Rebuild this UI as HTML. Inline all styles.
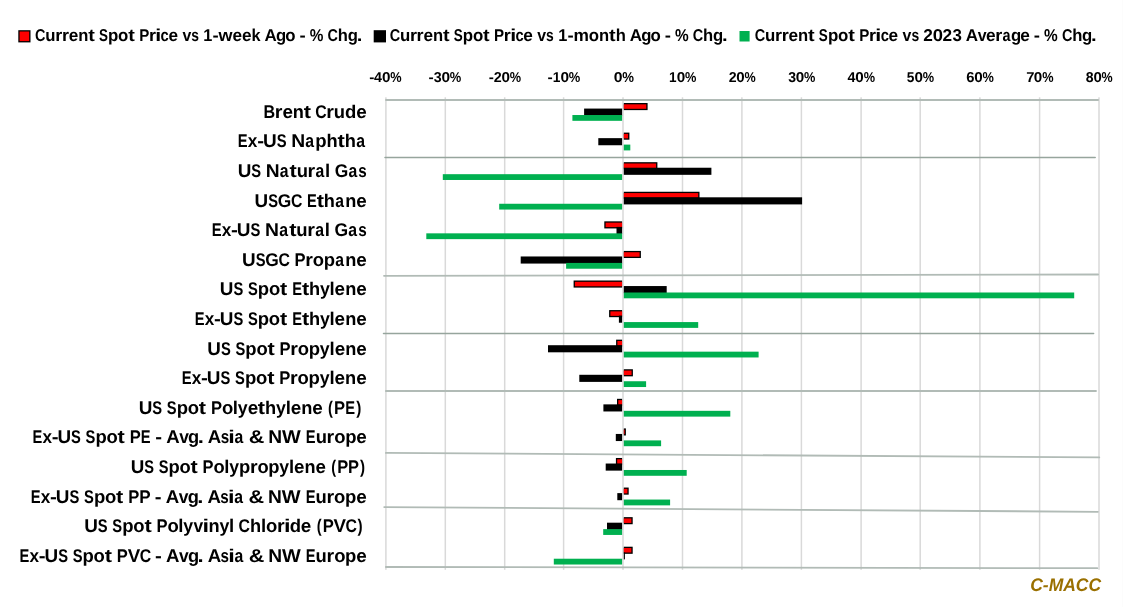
<!DOCTYPE html><html><head><meta charset="utf-8"><title>Spot Price Changes</title><style>
html,body{margin:0;padding:0;background:#fff;}
body{width:1123px;height:607px;overflow:hidden;position:relative;}
svg{position:absolute;left:0;top:0;display:block;will-change:transform;}
text{text-rendering:geometricPrecision;font-family:"Liberation Sans", Arial, sans-serif;font-weight:bold;fill:#000;}
</style></head><body>
<svg width="1123" height="607" viewBox="0 0 1123 607">
<rect x="0" y="0" width="1123" height="607" fill="#fff"/>
<line x1="1122.5" y1="0" x2="1122.5" y2="607" stroke="#fcfcfc" stroke-width="1"/>
<rect x="18.3" y="30.2" width="12.2" height="12.2" fill="#000"/><rect x="19.6" y="31.5" width="9.6" height="9.6" fill="#ff0000"/>
<text y="41.40" font-size="17.10"><tspan x="35.02" textLength="10.44" lengthAdjust="spacingAndGlyphs">C</tspan><tspan x="45.18" textLength="10.25" lengthAdjust="spacingAndGlyphs">u</tspan><tspan x="55.18" textLength="7.01" lengthAdjust="spacingAndGlyphs">r</tspan><tspan x="61.91" textLength="7.01" lengthAdjust="spacingAndGlyphs">r</tspan><tspan x="68.83" textLength="9.56" lengthAdjust="spacingAndGlyphs">e</tspan><tspan x="78.24" textLength="10.14" lengthAdjust="spacingAndGlyphs">n</tspan><tspan x="88.24" textLength="6.61" lengthAdjust="spacingAndGlyphs">t</tspan> <tspan x="98.96" textLength="8.98" lengthAdjust="spacingAndGlyphs">S</tspan><tspan x="108.01" textLength="10.31" lengthAdjust="spacingAndGlyphs">p</tspan><tspan x="118.11" textLength="10.28" lengthAdjust="spacingAndGlyphs">o</tspan><tspan x="128.20" textLength="6.61" lengthAdjust="spacingAndGlyphs">t</tspan> <tspan x="139.21" textLength="10.08" lengthAdjust="spacingAndGlyphs">P</tspan><tspan x="149.00" textLength="7.01" lengthAdjust="spacingAndGlyphs">r</tspan><tspan x="155.32" textLength="5.99" lengthAdjust="spacingAndGlyphs">i</tspan><tspan x="160.57" textLength="8.19" lengthAdjust="spacingAndGlyphs">c</tspan><tspan x="168.50" textLength="9.56" lengthAdjust="spacingAndGlyphs">e</tspan> <tspan x="182.44" textLength="8.82" lengthAdjust="spacingAndGlyphs">v</tspan><tspan x="191.20" textLength="7.71" lengthAdjust="spacingAndGlyphs">s</tspan> <tspan x="203.34" textLength="9.07" lengthAdjust="spacingAndGlyphs">1</tspan><tspan x="212.51" textLength="6.18" lengthAdjust="spacingAndGlyphs">-</tspan><tspan x="218.57" textLength="13.98" lengthAdjust="spacingAndGlyphs">w</tspan><tspan x="232.55" textLength="9.56" lengthAdjust="spacingAndGlyphs">e</tspan><tspan x="241.94" textLength="9.56" lengthAdjust="spacingAndGlyphs">e</tspan><tspan x="251.39" textLength="9.04" lengthAdjust="spacingAndGlyphs">k</tspan> <tspan x="264.53" textLength="12.27" lengthAdjust="spacingAndGlyphs">A</tspan><tspan x="276.06" textLength="10.19" lengthAdjust="spacingAndGlyphs">g</tspan><tspan x="285.30" textLength="10.28" lengthAdjust="spacingAndGlyphs">o</tspan> <tspan x="299.42" textLength="6.18" lengthAdjust="spacingAndGlyphs">-</tspan> <tspan x="309.75" textLength="13.65" lengthAdjust="spacingAndGlyphs">%</tspan> <tspan x="327.56" textLength="10.44" lengthAdjust="spacingAndGlyphs">C</tspan><tspan x="337.84" textLength="10.14" lengthAdjust="spacingAndGlyphs">h</tspan><tspan x="347.66" textLength="10.19" lengthAdjust="spacingAndGlyphs">g</tspan><tspan x="356.65" textLength="5.62" lengthAdjust="spacingAndGlyphs">.</tspan></text>
<rect x="373.7" y="30.2" width="12.3" height="12.2" fill="#000"/>
<text y="41.40" font-size="17.10"><tspan x="389.72" textLength="10.45" lengthAdjust="spacingAndGlyphs">C</tspan><tspan x="399.90" textLength="10.27" lengthAdjust="spacingAndGlyphs">u</tspan><tspan x="409.90" textLength="7.02" lengthAdjust="spacingAndGlyphs">r</tspan><tspan x="416.64" textLength="7.02" lengthAdjust="spacingAndGlyphs">r</tspan><tspan x="423.57" textLength="9.58" lengthAdjust="spacingAndGlyphs">e</tspan><tspan x="433.00" textLength="10.15" lengthAdjust="spacingAndGlyphs">n</tspan><tspan x="443.01" textLength="6.61" lengthAdjust="spacingAndGlyphs">t</tspan> <tspan x="453.74" textLength="8.99" lengthAdjust="spacingAndGlyphs">S</tspan><tspan x="462.80" textLength="10.32" lengthAdjust="spacingAndGlyphs">p</tspan><tspan x="472.91" textLength="10.29" lengthAdjust="spacingAndGlyphs">o</tspan><tspan x="483.02" textLength="6.61" lengthAdjust="spacingAndGlyphs">t</tspan> <tspan x="494.04" textLength="10.09" lengthAdjust="spacingAndGlyphs">P</tspan><tspan x="503.85" textLength="7.02" lengthAdjust="spacingAndGlyphs">r</tspan><tspan x="510.17" textLength="5.99" lengthAdjust="spacingAndGlyphs">i</tspan><tspan x="515.43" textLength="8.20" lengthAdjust="spacingAndGlyphs">c</tspan><tspan x="523.37" textLength="9.58" lengthAdjust="spacingAndGlyphs">e</tspan> <tspan x="537.33" textLength="8.83" lengthAdjust="spacingAndGlyphs">v</tspan><tspan x="546.09" textLength="7.72" lengthAdjust="spacingAndGlyphs">s</tspan> <tspan x="558.25" textLength="9.09" lengthAdjust="spacingAndGlyphs">1</tspan><tspan x="567.43" textLength="6.19" lengthAdjust="spacingAndGlyphs">-</tspan><tspan x="573.42" textLength="15.43" lengthAdjust="spacingAndGlyphs">m</tspan><tspan x="588.81" textLength="10.29" lengthAdjust="spacingAndGlyphs">o</tspan><tspan x="599.08" textLength="10.15" lengthAdjust="spacingAndGlyphs">n</tspan><tspan x="609.09" textLength="6.61" lengthAdjust="spacingAndGlyphs">t</tspan><tspan x="615.65" textLength="10.15" lengthAdjust="spacingAndGlyphs">h</tspan> <tspan x="629.71" textLength="12.28" lengthAdjust="spacingAndGlyphs">A</tspan><tspan x="641.25" textLength="10.20" lengthAdjust="spacingAndGlyphs">g</tspan><tspan x="650.51" textLength="10.29" lengthAdjust="spacingAndGlyphs">o</tspan> <tspan x="664.65" textLength="6.19" lengthAdjust="spacingAndGlyphs">-</tspan> <tspan x="674.99" textLength="13.67" lengthAdjust="spacingAndGlyphs">%</tspan> <tspan x="692.82" textLength="10.45" lengthAdjust="spacingAndGlyphs">C</tspan><tspan x="703.11" textLength="10.15" lengthAdjust="spacingAndGlyphs">h</tspan><tspan x="712.94" textLength="10.20" lengthAdjust="spacingAndGlyphs">g</tspan><tspan x="721.94" textLength="5.63" lengthAdjust="spacingAndGlyphs">.</tspan></text>
<rect x="739.5" y="31.0" width="10.1" height="10.5" fill="#00b050"/>
<text y="41.40" font-size="17.10"><tspan x="754.72" textLength="10.47" lengthAdjust="spacingAndGlyphs">C</tspan><tspan x="764.91" textLength="10.29" lengthAdjust="spacingAndGlyphs">u</tspan><tspan x="774.94" textLength="7.03" lengthAdjust="spacingAndGlyphs">r</tspan><tspan x="781.69" textLength="7.03" lengthAdjust="spacingAndGlyphs">r</tspan><tspan x="788.64" textLength="9.59" lengthAdjust="spacingAndGlyphs">e</tspan><tspan x="798.08" textLength="10.17" lengthAdjust="spacingAndGlyphs">n</tspan><tspan x="808.11" textLength="6.63" lengthAdjust="spacingAndGlyphs">t</tspan> <tspan x="818.86" textLength="9.00" lengthAdjust="spacingAndGlyphs">S</tspan><tspan x="827.93" textLength="10.34" lengthAdjust="spacingAndGlyphs">p</tspan><tspan x="838.07" textLength="10.31" lengthAdjust="spacingAndGlyphs">o</tspan><tspan x="848.20" textLength="6.63" lengthAdjust="spacingAndGlyphs">t</tspan> <tspan x="859.24" textLength="10.11" lengthAdjust="spacingAndGlyphs">P</tspan><tspan x="869.06" textLength="7.03" lengthAdjust="spacingAndGlyphs">r</tspan><tspan x="875.39" textLength="6.01" lengthAdjust="spacingAndGlyphs">i</tspan><tspan x="880.66" textLength="8.22" lengthAdjust="spacingAndGlyphs">c</tspan><tspan x="888.62" textLength="9.59" lengthAdjust="spacingAndGlyphs">e</tspan> <tspan x="902.61" textLength="8.85" lengthAdjust="spacingAndGlyphs">v</tspan><tspan x="911.39" textLength="7.73" lengthAdjust="spacingAndGlyphs">s</tspan> <tspan x="923.37" textLength="9.59" lengthAdjust="spacingAndGlyphs">2</tspan><tspan x="932.68" textLength="10.24" lengthAdjust="spacingAndGlyphs">0</tspan><tspan x="942.62" textLength="9.59" lengthAdjust="spacingAndGlyphs">2</tspan><tspan x="952.52" textLength="9.40" lengthAdjust="spacingAndGlyphs">3</tspan> <tspan x="965.78" textLength="12.31" lengthAdjust="spacingAndGlyphs">A</tspan><tspan x="977.72" textLength="8.85" lengthAdjust="spacingAndGlyphs">v</tspan><tspan x="986.12" textLength="9.59" lengthAdjust="spacingAndGlyphs">e</tspan><tspan x="995.31" textLength="7.03" lengthAdjust="spacingAndGlyphs">r</tspan><tspan x="1002.59" textLength="8.02" lengthAdjust="spacingAndGlyphs">a</tspan><tspan x="1010.96" textLength="10.22" lengthAdjust="spacingAndGlyphs">g</tspan><tspan x="1020.22" textLength="9.59" lengthAdjust="spacingAndGlyphs">e</tspan> <tspan x="1033.73" textLength="6.20" lengthAdjust="spacingAndGlyphs">-</tspan> <tspan x="1044.09" textLength="13.69" lengthAdjust="spacingAndGlyphs">%</tspan> <tspan x="1061.96" textLength="10.47" lengthAdjust="spacingAndGlyphs">C</tspan><tspan x="1072.27" textLength="10.17" lengthAdjust="spacingAndGlyphs">h</tspan><tspan x="1082.12" textLength="10.22" lengthAdjust="spacingAndGlyphs">g</tspan><tspan x="1091.14" textLength="5.64" lengthAdjust="spacingAndGlyphs">.</tspan></text>
<rect x="385.15" y="97.3" width="1.5" height="472.5" fill="#d9d9d9"/>
<rect x="444.55" y="97.3" width="1.5" height="472.5" fill="#d9d9d9"/>
<rect x="503.95" y="97.3" width="1.5" height="472.5" fill="#d9d9d9"/>
<rect x="562.85" y="97.3" width="1.5" height="472.5" fill="#d9d9d9"/>
<rect x="622.25" y="97.3" width="1.5" height="472.5" fill="#d9d9d9"/>
<rect x="681.75" y="97.3" width="1.5" height="472.5" fill="#d9d9d9"/>
<rect x="741.15" y="97.3" width="1.5" height="472.5" fill="#d9d9d9"/>
<rect x="800.65" y="97.3" width="1.5" height="472.5" fill="#d9d9d9"/>
<rect x="860.35" y="97.3" width="1.5" height="472.5" fill="#d9d9d9"/>
<rect x="919.45" y="97.3" width="1.5" height="472.5" fill="#d9d9d9"/>
<rect x="979.15" y="97.3" width="1.5" height="472.5" fill="#d9d9d9"/>
<rect x="1038.85" y="97.3" width="1.5" height="472.5" fill="#d9d9d9"/>
<rect x="1098.25" y="97.3" width="1.5" height="472.5" fill="#d9d9d9"/>
<text y="81.90" font-size="14.30"><tspan x="369.26" textLength="5.14" lengthAdjust="spacingAndGlyphs">-</tspan><tspan x="374.09" textLength="7.95" lengthAdjust="spacingAndGlyphs">4</tspan><tspan x="381.99" textLength="8.49" lengthAdjust="spacingAndGlyphs">0</tspan><tspan x="390.25" textLength="11.35" lengthAdjust="spacingAndGlyphs">%</tspan></text>
<text y="81.90" font-size="14.30"><tspan x="428.55" textLength="5.21" lengthAdjust="spacingAndGlyphs">-</tspan><tspan x="433.86" textLength="7.90" lengthAdjust="spacingAndGlyphs">3</tspan><tspan x="441.45" textLength="8.60" lengthAdjust="spacingAndGlyphs">0</tspan><tspan x="449.81" textLength="11.50" lengthAdjust="spacingAndGlyphs">%</tspan></text>
<text y="81.90" font-size="14.30"><tspan x="488.67" textLength="5.14" lengthAdjust="spacingAndGlyphs">-</tspan><tspan x="493.68" textLength="7.95" lengthAdjust="spacingAndGlyphs">2</tspan><tspan x="501.40" textLength="8.49" lengthAdjust="spacingAndGlyphs">0</tspan><tspan x="509.66" textLength="11.35" lengthAdjust="spacingAndGlyphs">%</tspan></text>
<text y="81.90" font-size="14.30"><tspan x="547.55" textLength="5.21" lengthAdjust="spacingAndGlyphs">-</tspan><tspan x="552.80" textLength="7.64" lengthAdjust="spacingAndGlyphs">1</tspan><tspan x="560.45" textLength="8.60" lengthAdjust="spacingAndGlyphs">0</tspan><tspan x="568.81" textLength="11.50" lengthAdjust="spacingAndGlyphs">%</tspan></text>
<text y="81.90" font-size="14.30"><tspan x="613.65" textLength="8.77" lengthAdjust="spacingAndGlyphs">0</tspan><tspan x="622.19" textLength="11.73" lengthAdjust="spacingAndGlyphs">%</tspan></text>
<text y="81.90" font-size="14.30"><tspan x="669.08" textLength="7.56" lengthAdjust="spacingAndGlyphs">1</tspan><tspan x="676.65" textLength="8.51" lengthAdjust="spacingAndGlyphs">0</tspan><tspan x="684.93" textLength="11.38" lengthAdjust="spacingAndGlyphs">%</tspan></text>
<text y="81.90" font-size="14.30"><tspan x="728.68" textLength="7.87" lengthAdjust="spacingAndGlyphs">2</tspan><tspan x="736.31" textLength="8.39" lengthAdjust="spacingAndGlyphs">0</tspan><tspan x="744.48" textLength="11.23" lengthAdjust="spacingAndGlyphs">%</tspan></text>
<text y="81.90" font-size="14.30"><tspan x="788.20" textLength="7.80" lengthAdjust="spacingAndGlyphs">3</tspan><tspan x="795.69" textLength="8.49" lengthAdjust="spacingAndGlyphs">0</tspan><tspan x="803.95" textLength="11.35" lengthAdjust="spacingAndGlyphs">%</tspan></text>
<text y="81.90" font-size="14.30"><tspan x="847.49" textLength="7.95" lengthAdjust="spacingAndGlyphs">4</tspan><tspan x="855.39" textLength="8.49" lengthAdjust="spacingAndGlyphs">0</tspan><tspan x="863.65" textLength="11.35" lengthAdjust="spacingAndGlyphs">%</tspan></text>
<text y="81.90" font-size="14.30"><tspan x="906.71" textLength="7.62" lengthAdjust="spacingAndGlyphs">5</tspan><tspan x="914.49" textLength="8.49" lengthAdjust="spacingAndGlyphs">0</tspan><tspan x="922.75" textLength="11.35" lengthAdjust="spacingAndGlyphs">%</tspan></text>
<text y="81.90" font-size="14.30"><tspan x="966.38" textLength="8.22" lengthAdjust="spacingAndGlyphs">6</tspan><tspan x="974.19" textLength="8.49" lengthAdjust="spacingAndGlyphs">0</tspan><tspan x="982.45" textLength="11.35" lengthAdjust="spacingAndGlyphs">%</tspan></text>
<text y="81.90" font-size="14.30"><tspan x="1026.17" textLength="8.21" lengthAdjust="spacingAndGlyphs">7</tspan><tspan x="1033.89" textLength="8.49" lengthAdjust="spacingAndGlyphs">0</tspan><tspan x="1042.15" textLength="11.35" lengthAdjust="spacingAndGlyphs">%</tspan></text>
<text y="81.90" font-size="14.30"><tspan x="1085.78" textLength="7.83" lengthAdjust="spacingAndGlyphs">8</tspan><tspan x="1093.44" textLength="8.34" lengthAdjust="spacingAndGlyphs">0</tspan><tspan x="1101.55" textLength="11.15" lengthAdjust="spacingAndGlyphs">%</tspan></text>
<line x1="386.00" y1="100.00" x2="1098.10" y2="100.00" stroke="#b1bbb6" stroke-width="1.80" stroke-linecap="round"/>
<line x1="385.00" y1="157.50" x2="1095.20" y2="157.40" stroke="#96a59d" stroke-width="1.50" stroke-linecap="round"/>
<line x1="384.00" y1="275.80" x2="1098.10" y2="274.50" stroke="#b1bbb6" stroke-width="1.80" stroke-linecap="round"/>
<line x1="383.50" y1="333.40" x2="1093.60" y2="333.40" stroke="#96a59d" stroke-width="1.50" stroke-linecap="round"/>
<line x1="385.90" y1="391.00" x2="1096.00" y2="391.00" stroke="#b1bbb6" stroke-width="1.80" stroke-linecap="round"/>
<line x1="385.90" y1="452.90" x2="1099.30" y2="457.40" stroke="#b1bbb6" stroke-width="1.80" stroke-linecap="round"/>
<line x1="384.20" y1="507.10" x2="1097.90" y2="511.80" stroke="#b1bbb6" stroke-width="1.80" stroke-linecap="round"/>
<line x1="385.90" y1="567.00" x2="1097.30" y2="568.20" stroke="#b1bbb6" stroke-width="1.80" stroke-linecap="round"/>
<rect x="623.80" y="103.02" width="23.80" height="7.10" fill="#000"/><rect x="623.80" y="104.32" width="22.50" height="4.50" fill="#ff0000"/>
<rect x="584.10" y="108.57" width="38.00" height="7.10" fill="#000"/>
<rect x="572.40" y="115.02" width="49.70" height="5.80" fill="#00b050"/>
<rect x="623.80" y="132.60" width="5.60" height="7.10" fill="#000"/><rect x="623.80" y="133.90" width="4.30" height="4.50" fill="#ff0000"/>
<rect x="598.30" y="138.15" width="23.80" height="7.10" fill="#000"/>
<rect x="623.80" y="144.60" width="6.50" height="5.80" fill="#00b050"/>
<rect x="623.80" y="162.18" width="33.60" height="7.10" fill="#000"/><rect x="623.80" y="163.48" width="32.30" height="4.50" fill="#ff0000"/>
<rect x="623.80" y="167.73" width="87.60" height="7.10" fill="#000"/>
<rect x="442.80" y="174.18" width="179.30" height="5.80" fill="#00b050"/>
<rect x="623.80" y="191.76" width="75.70" height="7.10" fill="#000"/><rect x="623.80" y="193.06" width="74.40" height="4.50" fill="#ff0000"/>
<rect x="623.80" y="197.31" width="178.30" height="7.10" fill="#000"/>
<rect x="499.20" y="203.76" width="122.90" height="5.80" fill="#00b050"/>
<rect x="604.30" y="221.34" width="17.80" height="7.10" fill="#000"/><rect x="605.60" y="222.64" width="16.50" height="4.50" fill="#ff0000"/>
<rect x="616.50" y="226.89" width="5.60" height="7.10" fill="#000"/>
<rect x="426.30" y="233.34" width="195.80" height="5.80" fill="#00b050"/>
<rect x="623.80" y="250.92" width="17.10" height="7.10" fill="#000"/><rect x="623.80" y="252.22" width="15.80" height="4.50" fill="#ff0000"/>
<rect x="520.70" y="256.47" width="101.40" height="7.10" fill="#000"/>
<rect x="566.10" y="262.92" width="56.00" height="5.80" fill="#00b050"/>
<rect x="573.60" y="280.50" width="48.50" height="7.10" fill="#000"/><rect x="574.90" y="281.80" width="47.20" height="4.50" fill="#ff0000"/>
<rect x="623.80" y="286.05" width="42.90" height="7.10" fill="#000"/>
<rect x="623.80" y="292.50" width="450.40" height="5.80" fill="#00b050"/>
<rect x="609.10" y="310.08" width="13.00" height="7.10" fill="#000"/><rect x="610.40" y="311.38" width="11.70" height="4.50" fill="#ff0000"/>
<rect x="618.90" y="315.63" width="3.20" height="7.10" fill="#000"/>
<rect x="623.80" y="322.08" width="74.40" height="5.80" fill="#00b050"/>
<rect x="616.10" y="339.66" width="6.00" height="7.10" fill="#000"/><rect x="617.40" y="340.96" width="4.70" height="4.50" fill="#ff0000"/>
<rect x="548.00" y="345.21" width="74.10" height="7.10" fill="#000"/>
<rect x="623.80" y="351.66" width="134.80" height="5.80" fill="#00b050"/>
<rect x="623.80" y="369.24" width="9.10" height="7.10" fill="#000"/><rect x="623.80" y="370.54" width="7.80" height="4.50" fill="#ff0000"/>
<rect x="579.30" y="374.79" width="42.80" height="7.10" fill="#000"/>
<rect x="623.80" y="381.24" width="22.30" height="5.80" fill="#00b050"/>
<rect x="617.00" y="398.82" width="5.10" height="7.10" fill="#000"/><rect x="618.30" y="400.12" width="3.80" height="4.50" fill="#ff0000"/>
<rect x="603.40" y="404.37" width="18.70" height="7.10" fill="#000"/>
<rect x="623.80" y="410.82" width="106.50" height="5.80" fill="#00b050"/>
<rect x="623.80" y="428.40" width="2.10" height="7.10" fill="#000"/><rect x="623.80" y="429.70" width="0.80" height="4.50" fill="#ff0000"/>
<rect x="615.80" y="433.95" width="6.30" height="7.10" fill="#000"/>
<rect x="623.80" y="440.40" width="37.30" height="5.80" fill="#00b050"/>
<rect x="615.90" y="457.98" width="6.20" height="7.10" fill="#000"/><rect x="617.20" y="459.28" width="4.90" height="4.50" fill="#ff0000"/>
<rect x="605.70" y="463.53" width="16.40" height="7.10" fill="#000"/>
<rect x="623.80" y="469.98" width="62.90" height="5.80" fill="#00b050"/>
<rect x="623.80" y="487.56" width="4.90" height="7.10" fill="#000"/><rect x="623.80" y="488.86" width="3.60" height="4.50" fill="#ff0000"/>
<rect x="617.30" y="493.11" width="4.80" height="7.10" fill="#000"/>
<rect x="623.80" y="499.56" width="46.30" height="5.80" fill="#00b050"/>
<rect x="623.80" y="517.14" width="8.90" height="7.10" fill="#000"/><rect x="623.80" y="518.44" width="7.60" height="4.50" fill="#ff0000"/>
<rect x="607.00" y="522.69" width="15.10" height="7.10" fill="#000"/>
<rect x="603.20" y="529.14" width="18.90" height="5.80" fill="#00b050"/>
<rect x="623.80" y="546.72" width="8.90" height="7.10" fill="#000"/><rect x="623.80" y="548.02" width="7.60" height="4.50" fill="#ff0000"/>
<rect x="623.80" y="552.27" width="1.10" height="7.10" fill="#000"/>
<rect x="553.80" y="558.72" width="68.30" height="5.80" fill="#00b050"/>
<text y="117.90" font-size="18.40"><tspan x="263.56" textLength="11.59" lengthAdjust="spacingAndGlyphs">B</tspan><tspan x="274.86" textLength="7.69" lengthAdjust="spacingAndGlyphs">r</tspan><tspan x="282.45" textLength="10.49" lengthAdjust="spacingAndGlyphs">e</tspan><tspan x="292.77" textLength="11.12" lengthAdjust="spacingAndGlyphs">n</tspan><tspan x="303.74" textLength="7.25" lengthAdjust="spacingAndGlyphs">t</tspan> <tspan x="315.34" textLength="11.45" lengthAdjust="spacingAndGlyphs">C</tspan><tspan x="326.31" textLength="7.69" lengthAdjust="spacingAndGlyphs">r</tspan><tspan x="333.87" textLength="11.25" lengthAdjust="spacingAndGlyphs">u</tspan><tspan x="344.97" textLength="11.31" lengthAdjust="spacingAndGlyphs">d</tspan><tspan x="356.20" textLength="10.49" lengthAdjust="spacingAndGlyphs">e</tspan></text>
<text y="147.49" font-size="18.40"><tspan x="237.84" textLength="9.84" lengthAdjust="spacingAndGlyphs">E</tspan><tspan x="247.84" textLength="9.57" lengthAdjust="spacingAndGlyphs">x</tspan><tspan x="257.21" textLength="6.81" lengthAdjust="spacingAndGlyphs">-</tspan><tspan x="263.03" textLength="13.69" lengthAdjust="spacingAndGlyphs">U</tspan><tspan x="276.68" textLength="9.88" lengthAdjust="spacingAndGlyphs">S</tspan> <tspan x="291.20" textLength="13.91" lengthAdjust="spacingAndGlyphs">N</tspan><tspan x="305.37" textLength="8.80" lengthAdjust="spacingAndGlyphs">a</tspan><tspan x="315.37" textLength="11.35" lengthAdjust="spacingAndGlyphs">p</tspan><tspan x="326.58" textLength="11.16" lengthAdjust="spacingAndGlyphs">h</tspan><tspan x="337.59" textLength="7.27" lengthAdjust="spacingAndGlyphs">t</tspan><tspan x="344.80" textLength="11.16" lengthAdjust="spacingAndGlyphs">h</tspan><tspan x="356.26" textLength="8.80" lengthAdjust="spacingAndGlyphs">a</tspan></text>
<text y="177.07" font-size="18.40"><tspan x="237.67" textLength="13.63" lengthAdjust="spacingAndGlyphs">U</tspan><tspan x="251.26" textLength="9.84" lengthAdjust="spacingAndGlyphs">S</tspan> <tspan x="265.71" textLength="13.85" lengthAdjust="spacingAndGlyphs">N</tspan><tspan x="279.82" textLength="8.77" lengthAdjust="spacingAndGlyphs">a</tspan><tspan x="289.62" textLength="7.24" lengthAdjust="spacingAndGlyphs">t</tspan><tspan x="296.68" textLength="11.24" lengthAdjust="spacingAndGlyphs">u</tspan><tspan x="307.63" textLength="7.69" lengthAdjust="spacingAndGlyphs">r</tspan><tspan x="315.59" textLength="8.77" lengthAdjust="spacingAndGlyphs">a</tspan><tspan x="325.09" textLength="5.17" lengthAdjust="spacingAndGlyphs">l</tspan> <tspan x="334.66" textLength="13.53" lengthAdjust="spacingAndGlyphs">G</tspan><tspan x="348.40" textLength="8.77" lengthAdjust="spacingAndGlyphs">a</tspan><tspan x="358.20" textLength="8.45" lengthAdjust="spacingAndGlyphs">s</tspan></text>
<text y="206.66" font-size="18.40"><tspan x="254.57" textLength="13.60" lengthAdjust="spacingAndGlyphs">U</tspan><tspan x="268.13" textLength="9.82" lengthAdjust="spacingAndGlyphs">S</tspan><tspan x="277.80" textLength="13.51" lengthAdjust="spacingAndGlyphs">G</tspan><tspan x="290.96" textLength="11.42" lengthAdjust="spacingAndGlyphs">C</tspan> <tspan x="307.01" textLength="9.78" lengthAdjust="spacingAndGlyphs">E</tspan><tspan x="316.81" textLength="7.23" lengthAdjust="spacingAndGlyphs">t</tspan><tspan x="323.87" textLength="11.09" lengthAdjust="spacingAndGlyphs">h</tspan><tspan x="335.25" textLength="8.75" lengthAdjust="spacingAndGlyphs">a</tspan><tspan x="345.21" textLength="11.09" lengthAdjust="spacingAndGlyphs">n</tspan><tspan x="356.22" textLength="10.46" lengthAdjust="spacingAndGlyphs">e</tspan></text>
<text y="236.25" font-size="18.40"><tspan x="211.64" textLength="9.86" lengthAdjust="spacingAndGlyphs">E</tspan><tspan x="221.66" textLength="9.59" lengthAdjust="spacingAndGlyphs">x</tspan><tspan x="231.04" textLength="6.82" lengthAdjust="spacingAndGlyphs">-</tspan><tspan x="236.87" textLength="13.71" lengthAdjust="spacingAndGlyphs">U</tspan><tspan x="250.55" textLength="9.90" lengthAdjust="spacingAndGlyphs">S</tspan> <tspan x="265.09" textLength="13.93" lengthAdjust="spacingAndGlyphs">N</tspan><tspan x="279.29" textLength="8.82" lengthAdjust="spacingAndGlyphs">a</tspan><tspan x="289.15" textLength="7.29" lengthAdjust="spacingAndGlyphs">t</tspan><tspan x="296.25" textLength="11.31" lengthAdjust="spacingAndGlyphs">u</tspan><tspan x="307.27" textLength="7.73" lengthAdjust="spacingAndGlyphs">r</tspan><tspan x="315.28" textLength="8.82" lengthAdjust="spacingAndGlyphs">a</tspan><tspan x="324.83" textLength="5.20" lengthAdjust="spacingAndGlyphs">l</tspan> <tspan x="334.47" textLength="13.62" lengthAdjust="spacingAndGlyphs">G</tspan><tspan x="348.29" textLength="8.82" lengthAdjust="spacingAndGlyphs">a</tspan><tspan x="358.15" textLength="8.50" lengthAdjust="spacingAndGlyphs">s</tspan></text>
<text y="265.84" font-size="18.40"><tspan x="242.07" textLength="13.62" lengthAdjust="spacingAndGlyphs">U</tspan><tspan x="255.65" textLength="9.84" lengthAdjust="spacingAndGlyphs">S</tspan><tspan x="265.34" textLength="13.53" lengthAdjust="spacingAndGlyphs">G</tspan><tspan x="278.52" textLength="11.44" lengthAdjust="spacingAndGlyphs">C</tspan> <tspan x="294.48" textLength="11.05" lengthAdjust="spacingAndGlyphs">P</tspan><tspan x="305.21" textLength="7.68" lengthAdjust="spacingAndGlyphs">r</tspan><tspan x="312.81" textLength="11.27" lengthAdjust="spacingAndGlyphs">o</tspan><tspan x="323.77" textLength="11.29" lengthAdjust="spacingAndGlyphs">p</tspan><tspan x="335.20" textLength="8.76" lengthAdjust="spacingAndGlyphs">a</tspan><tspan x="345.17" textLength="11.11" lengthAdjust="spacingAndGlyphs">n</tspan><tspan x="356.21" textLength="10.48" lengthAdjust="spacingAndGlyphs">e</tspan></text>
<text y="295.42" font-size="18.40"><tspan x="219.87" textLength="13.62" lengthAdjust="spacingAndGlyphs">U</tspan><tspan x="233.45" textLength="9.84" lengthAdjust="spacingAndGlyphs">S</tspan> <tspan x="247.95" textLength="9.84" lengthAdjust="spacingAndGlyphs">S</tspan><tspan x="257.85" textLength="11.29" lengthAdjust="spacingAndGlyphs">p</tspan><tspan x="268.92" textLength="11.26" lengthAdjust="spacingAndGlyphs">o</tspan><tspan x="279.98" textLength="7.24" lengthAdjust="spacingAndGlyphs">t</tspan> <tspan x="292.17" textLength="9.80" lengthAdjust="spacingAndGlyphs">E</tspan><tspan x="301.99" textLength="7.24" lengthAdjust="spacingAndGlyphs">t</tspan><tspan x="309.05" textLength="11.11" lengthAdjust="spacingAndGlyphs">h</tspan><tspan x="320.03" textLength="9.86" lengthAdjust="spacingAndGlyphs">y</tspan><tspan x="329.61" textLength="5.17" lengthAdjust="spacingAndGlyphs">l</tspan><tspan x="334.63" textLength="10.48" lengthAdjust="spacingAndGlyphs">e</tspan><tspan x="345.18" textLength="11.11" lengthAdjust="spacingAndGlyphs">n</tspan><tspan x="356.21" textLength="10.48" lengthAdjust="spacingAndGlyphs">e</tspan></text>
<text y="325.01" font-size="18.40"><tspan x="194.74" textLength="9.80" lengthAdjust="spacingAndGlyphs">E</tspan><tspan x="204.70" textLength="9.53" lengthAdjust="spacingAndGlyphs">x</tspan><tspan x="214.02" textLength="6.78" lengthAdjust="spacingAndGlyphs">-</tspan><tspan x="219.82" textLength="13.63" lengthAdjust="spacingAndGlyphs">U</tspan><tspan x="233.40" textLength="9.84" lengthAdjust="spacingAndGlyphs">S</tspan> <tspan x="247.91" textLength="9.84" lengthAdjust="spacingAndGlyphs">S</tspan><tspan x="257.82" textLength="11.30" lengthAdjust="spacingAndGlyphs">p</tspan><tspan x="268.89" textLength="11.27" lengthAdjust="spacingAndGlyphs">o</tspan><tspan x="279.95" textLength="7.24" lengthAdjust="spacingAndGlyphs">t</tspan> <tspan x="292.14" textLength="9.80" lengthAdjust="spacingAndGlyphs">E</tspan><tspan x="301.96" textLength="7.24" lengthAdjust="spacingAndGlyphs">t</tspan><tspan x="309.03" textLength="11.11" lengthAdjust="spacingAndGlyphs">h</tspan><tspan x="320.02" textLength="9.86" lengthAdjust="spacingAndGlyphs">y</tspan><tspan x="329.60" textLength="5.17" lengthAdjust="spacingAndGlyphs">l</tspan><tspan x="334.62" textLength="10.48" lengthAdjust="spacingAndGlyphs">e</tspan><tspan x="345.17" textLength="11.11" lengthAdjust="spacingAndGlyphs">n</tspan><tspan x="356.20" textLength="10.48" lengthAdjust="spacingAndGlyphs">e</tspan></text>
<text y="354.60" font-size="18.40"><tspan x="207.37" textLength="13.61" lengthAdjust="spacingAndGlyphs">U</tspan><tspan x="220.94" textLength="9.83" lengthAdjust="spacingAndGlyphs">S</tspan> <tspan x="235.43" textLength="9.83" lengthAdjust="spacingAndGlyphs">S</tspan><tspan x="245.34" textLength="11.29" lengthAdjust="spacingAndGlyphs">p</tspan><tspan x="256.40" textLength="11.26" lengthAdjust="spacingAndGlyphs">o</tspan><tspan x="267.46" textLength="7.23" lengthAdjust="spacingAndGlyphs">t</tspan> <tspan x="279.51" textLength="11.04" lengthAdjust="spacingAndGlyphs">P</tspan><tspan x="290.24" textLength="7.68" lengthAdjust="spacingAndGlyphs">r</tspan><tspan x="297.83" textLength="11.26" lengthAdjust="spacingAndGlyphs">o</tspan><tspan x="308.79" textLength="11.29" lengthAdjust="spacingAndGlyphs">p</tspan><tspan x="319.79" textLength="9.86" lengthAdjust="spacingAndGlyphs">y</tspan><tspan x="329.62" textLength="5.17" lengthAdjust="spacingAndGlyphs">l</tspan><tspan x="334.65" textLength="10.47" lengthAdjust="spacingAndGlyphs">e</tspan><tspan x="345.18" textLength="11.10" lengthAdjust="spacingAndGlyphs">n</tspan><tspan x="356.21" textLength="10.47" lengthAdjust="spacingAndGlyphs">e</tspan></text>
<text y="384.18" font-size="18.40"><tspan x="181.74" textLength="9.82" lengthAdjust="spacingAndGlyphs">E</tspan><tspan x="191.72" textLength="9.55" lengthAdjust="spacingAndGlyphs">x</tspan><tspan x="201.07" textLength="6.79" lengthAdjust="spacingAndGlyphs">-</tspan><tspan x="206.87" textLength="13.66" lengthAdjust="spacingAndGlyphs">U</tspan><tspan x="220.49" textLength="9.86" lengthAdjust="spacingAndGlyphs">S</tspan> <tspan x="235.03" textLength="9.86" lengthAdjust="spacingAndGlyphs">S</tspan><tspan x="244.96" textLength="11.32" lengthAdjust="spacingAndGlyphs">p</tspan><tspan x="256.06" textLength="11.29" lengthAdjust="spacingAndGlyphs">o</tspan><tspan x="267.15" textLength="7.26" lengthAdjust="spacingAndGlyphs">t</tspan> <tspan x="279.24" textLength="11.08" lengthAdjust="spacingAndGlyphs">P</tspan><tspan x="290.00" textLength="7.70" lengthAdjust="spacingAndGlyphs">r</tspan><tspan x="297.62" textLength="11.29" lengthAdjust="spacingAndGlyphs">o</tspan><tspan x="308.61" textLength="11.32" lengthAdjust="spacingAndGlyphs">p</tspan><tspan x="319.65" textLength="9.89" lengthAdjust="spacingAndGlyphs">y</tspan><tspan x="329.51" textLength="5.18" lengthAdjust="spacingAndGlyphs">l</tspan><tspan x="334.55" textLength="10.51" lengthAdjust="spacingAndGlyphs">e</tspan><tspan x="345.12" textLength="11.13" lengthAdjust="spacingAndGlyphs">n</tspan><tspan x="356.18" textLength="10.51" lengthAdjust="spacingAndGlyphs">e</tspan></text>
<text y="413.77" font-size="18.40"><tspan x="138.67" textLength="13.64" lengthAdjust="spacingAndGlyphs">U</tspan><tspan x="152.27" textLength="9.85" lengthAdjust="spacingAndGlyphs">S</tspan> <tspan x="166.79" textLength="9.85" lengthAdjust="spacingAndGlyphs">S</tspan><tspan x="176.71" textLength="11.31" lengthAdjust="spacingAndGlyphs">p</tspan><tspan x="187.80" textLength="11.28" lengthAdjust="spacingAndGlyphs">o</tspan><tspan x="198.88" textLength="7.25" lengthAdjust="spacingAndGlyphs">t</tspan> <tspan x="210.96" textLength="11.06" lengthAdjust="spacingAndGlyphs">P</tspan><tspan x="221.93" textLength="11.28" lengthAdjust="spacingAndGlyphs">o</tspan><tspan x="232.83" textLength="5.18" lengthAdjust="spacingAndGlyphs">l</tspan><tspan x="237.81" textLength="9.88" lengthAdjust="spacingAndGlyphs">y</tspan><tspan x="247.70" textLength="10.50" lengthAdjust="spacingAndGlyphs">e</tspan><tspan x="257.86" textLength="7.25" lengthAdjust="spacingAndGlyphs">t</tspan><tspan x="265.10" textLength="11.12" lengthAdjust="spacingAndGlyphs">h</tspan><tspan x="276.10" textLength="9.88" lengthAdjust="spacingAndGlyphs">y</tspan><tspan x="285.69" textLength="5.18" lengthAdjust="spacingAndGlyphs">l</tspan><tspan x="290.72" textLength="10.50" lengthAdjust="spacingAndGlyphs">e</tspan><tspan x="301.28" textLength="11.12" lengthAdjust="spacingAndGlyphs">n</tspan><tspan x="312.33" textLength="10.50" lengthAdjust="spacingAndGlyphs">e</tspan> <tspan x="328.12" textLength="4.89" lengthAdjust="spacingAndGlyphs">(</tspan><tspan x="334.07" textLength="11.06" lengthAdjust="spacingAndGlyphs">P</tspan><tspan x="345.25" textLength="9.81" lengthAdjust="spacingAndGlyphs">E</tspan><tspan x="356.14" textLength="5.10" lengthAdjust="spacingAndGlyphs">)</tspan></text>
<text y="443.36" font-size="18.40"><tspan x="32.45" textLength="9.80" lengthAdjust="spacingAndGlyphs">E</tspan><tspan x="42.40" textLength="9.53" lengthAdjust="spacingAndGlyphs">x</tspan><tspan x="51.72" textLength="6.78" lengthAdjust="spacingAndGlyphs">-</tspan><tspan x="57.51" textLength="13.62" lengthAdjust="spacingAndGlyphs">U</tspan><tspan x="71.09" textLength="9.84" lengthAdjust="spacingAndGlyphs">S</tspan> <tspan x="85.59" textLength="9.84" lengthAdjust="spacingAndGlyphs">S</tspan><tspan x="95.50" textLength="11.29" lengthAdjust="spacingAndGlyphs">p</tspan><tspan x="106.56" textLength="11.27" lengthAdjust="spacingAndGlyphs">o</tspan><tspan x="117.63" textLength="7.24" lengthAdjust="spacingAndGlyphs">t</tspan> <tspan x="129.69" textLength="11.05" lengthAdjust="spacingAndGlyphs">P</tspan><tspan x="140.85" textLength="9.80" lengthAdjust="spacingAndGlyphs">E</tspan> <tspan x="155.28" textLength="6.78" lengthAdjust="spacingAndGlyphs">-</tspan> <tspan x="166.15" textLength="13.44" lengthAdjust="spacingAndGlyphs">A</tspan><tspan x="179.20" textLength="9.67" lengthAdjust="spacingAndGlyphs">v</tspan><tspan x="188.09" textLength="11.17" lengthAdjust="spacingAndGlyphs">g</tspan><tspan x="197.70" textLength="6.16" lengthAdjust="spacingAndGlyphs">.</tspan> <tspan x="207.86" textLength="13.44" lengthAdjust="spacingAndGlyphs">A</tspan><tspan x="220.69" textLength="8.45" lengthAdjust="spacingAndGlyphs">s</tspan><tspan x="228.38" textLength="6.56" lengthAdjust="spacingAndGlyphs">i</tspan><tspan x="234.51" textLength="8.76" lengthAdjust="spacingAndGlyphs">a</tspan> <tspan x="248.87" textLength="15.56" lengthAdjust="spacingAndGlyphs">&amp;</tspan> <tspan x="268.32" textLength="13.84" lengthAdjust="spacingAndGlyphs">N</tspan><tspan x="282.09" textLength="18.75" lengthAdjust="spacingAndGlyphs">W</tspan> <tspan x="305.77" textLength="9.80" lengthAdjust="spacingAndGlyphs">E</tspan><tspan x="315.64" textLength="11.24" lengthAdjust="spacingAndGlyphs">u</tspan><tspan x="326.59" textLength="7.68" lengthAdjust="spacingAndGlyphs">r</tspan><tspan x="334.19" textLength="11.27" lengthAdjust="spacingAndGlyphs">o</tspan><tspan x="345.15" textLength="11.29" lengthAdjust="spacingAndGlyphs">p</tspan><tspan x="356.21" textLength="10.48" lengthAdjust="spacingAndGlyphs">e</tspan></text>
<text y="472.94" font-size="18.40"><tspan x="130.77" textLength="13.55" lengthAdjust="spacingAndGlyphs">U</tspan><tspan x="144.28" textLength="9.78" lengthAdjust="spacingAndGlyphs">S</tspan> <tspan x="158.70" textLength="9.78" lengthAdjust="spacingAndGlyphs">S</tspan><tspan x="168.55" textLength="11.23" lengthAdjust="spacingAndGlyphs">p</tspan><tspan x="179.56" textLength="11.20" lengthAdjust="spacingAndGlyphs">o</tspan><tspan x="190.56" textLength="7.20" lengthAdjust="spacingAndGlyphs">t</tspan> <tspan x="202.56" textLength="10.99" lengthAdjust="spacingAndGlyphs">P</tspan><tspan x="213.45" textLength="11.20" lengthAdjust="spacingAndGlyphs">o</tspan><tspan x="224.27" textLength="5.14" lengthAdjust="spacingAndGlyphs">l</tspan><tspan x="229.22" textLength="9.81" lengthAdjust="spacingAndGlyphs">y</tspan><tspan x="239.12" textLength="11.23" lengthAdjust="spacingAndGlyphs">p</tspan><tspan x="249.91" textLength="7.64" lengthAdjust="spacingAndGlyphs">r</tspan><tspan x="257.46" textLength="11.20" lengthAdjust="spacingAndGlyphs">o</tspan><tspan x="268.37" textLength="11.23" lengthAdjust="spacingAndGlyphs">p</tspan><tspan x="279.31" textLength="9.81" lengthAdjust="spacingAndGlyphs">y</tspan><tspan x="289.10" textLength="5.14" lengthAdjust="spacingAndGlyphs">l</tspan><tspan x="294.09" textLength="10.42" lengthAdjust="spacingAndGlyphs">e</tspan><tspan x="304.58" textLength="11.05" lengthAdjust="spacingAndGlyphs">n</tspan><tspan x="315.56" textLength="10.42" lengthAdjust="spacingAndGlyphs">e</tspan> <tspan x="331.23" textLength="4.86" lengthAdjust="spacingAndGlyphs">(</tspan><tspan x="337.14" textLength="10.99" lengthAdjust="spacingAndGlyphs">P</tspan><tspan x="348.12" textLength="10.99" lengthAdjust="spacingAndGlyphs">P</tspan><tspan x="359.97" textLength="5.06" lengthAdjust="spacingAndGlyphs">)</tspan></text>
<text y="502.53" font-size="18.40"><tspan x="30.74" textLength="9.82" lengthAdjust="spacingAndGlyphs">E</tspan><tspan x="40.72" textLength="9.55" lengthAdjust="spacingAndGlyphs">x</tspan><tspan x="50.06" textLength="6.79" lengthAdjust="spacingAndGlyphs">-</tspan><tspan x="55.87" textLength="13.65" lengthAdjust="spacingAndGlyphs">U</tspan><tspan x="69.48" textLength="9.86" lengthAdjust="spacingAndGlyphs">S</tspan> <tspan x="84.01" textLength="9.86" lengthAdjust="spacingAndGlyphs">S</tspan><tspan x="93.94" textLength="11.32" lengthAdjust="spacingAndGlyphs">p</tspan><tspan x="105.03" textLength="11.29" lengthAdjust="spacingAndGlyphs">o</tspan><tspan x="116.12" textLength="7.25" lengthAdjust="spacingAndGlyphs">t</tspan> <tspan x="128.21" textLength="11.07" lengthAdjust="spacingAndGlyphs">P</tspan><tspan x="139.28" textLength="11.07" lengthAdjust="spacingAndGlyphs">P</tspan> <tspan x="154.79" textLength="6.79" lengthAdjust="spacingAndGlyphs">-</tspan> <tspan x="165.68" textLength="13.47" lengthAdjust="spacingAndGlyphs">A</tspan><tspan x="178.76" textLength="9.69" lengthAdjust="spacingAndGlyphs">v</tspan><tspan x="187.67" textLength="11.19" lengthAdjust="spacingAndGlyphs">g</tspan><tspan x="197.31" textLength="6.18" lengthAdjust="spacingAndGlyphs">.</tspan> <tspan x="207.50" textLength="13.47" lengthAdjust="spacingAndGlyphs">A</tspan><tspan x="220.35" textLength="8.47" lengthAdjust="spacingAndGlyphs">s</tspan><tspan x="228.06" textLength="6.57" lengthAdjust="spacingAndGlyphs">i</tspan><tspan x="234.21" textLength="8.78" lengthAdjust="spacingAndGlyphs">a</tspan> <tspan x="248.60" textLength="15.59" lengthAdjust="spacingAndGlyphs">&amp;</tspan> <tspan x="268.09" textLength="13.87" lengthAdjust="spacingAndGlyphs">N</tspan><tspan x="281.89" textLength="18.80" lengthAdjust="spacingAndGlyphs">W</tspan> <tspan x="305.63" textLength="9.82" lengthAdjust="spacingAndGlyphs">E</tspan><tspan x="315.52" textLength="11.26" lengthAdjust="spacingAndGlyphs">u</tspan><tspan x="326.50" textLength="7.70" lengthAdjust="spacingAndGlyphs">r</tspan><tspan x="334.11" textLength="11.29" lengthAdjust="spacingAndGlyphs">o</tspan><tspan x="345.11" textLength="11.32" lengthAdjust="spacingAndGlyphs">p</tspan><tspan x="356.18" textLength="10.50" lengthAdjust="spacingAndGlyphs">e</tspan></text>
<text y="532.12" font-size="18.40"><tspan x="84.17" textLength="13.65" lengthAdjust="spacingAndGlyphs">U</tspan><tspan x="97.78" textLength="9.86" lengthAdjust="spacingAndGlyphs">S</tspan> <tspan x="112.30" textLength="9.86" lengthAdjust="spacingAndGlyphs">S</tspan><tspan x="122.23" textLength="11.32" lengthAdjust="spacingAndGlyphs">p</tspan><tspan x="133.32" textLength="11.29" lengthAdjust="spacingAndGlyphs">o</tspan><tspan x="144.41" textLength="7.25" lengthAdjust="spacingAndGlyphs">t</tspan> <tspan x="156.50" textLength="11.07" lengthAdjust="spacingAndGlyphs">P</tspan><tspan x="167.47" textLength="11.29" lengthAdjust="spacingAndGlyphs">o</tspan><tspan x="178.38" textLength="5.18" lengthAdjust="spacingAndGlyphs">l</tspan><tspan x="183.36" textLength="9.88" lengthAdjust="spacingAndGlyphs">y</tspan><tspan x="193.40" textLength="9.69" lengthAdjust="spacingAndGlyphs">v</tspan><tspan x="202.58" textLength="6.57" lengthAdjust="spacingAndGlyphs">i</tspan><tspan x="208.45" textLength="11.13" lengthAdjust="spacingAndGlyphs">n</tspan><tspan x="219.46" textLength="9.88" lengthAdjust="spacingAndGlyphs">y</tspan><tspan x="229.05" textLength="5.18" lengthAdjust="spacingAndGlyphs">l</tspan> <tspan x="238.61" textLength="11.46" lengthAdjust="spacingAndGlyphs">C</tspan><tspan x="249.89" textLength="11.13" lengthAdjust="spacingAndGlyphs">h</tspan><tspan x="261.02" textLength="5.18" lengthAdjust="spacingAndGlyphs">l</tspan><tspan x="266.07" textLength="11.29" lengthAdjust="spacingAndGlyphs">o</tspan><tspan x="277.02" textLength="7.70" lengthAdjust="spacingAndGlyphs">r</tspan><tspan x="283.96" textLength="6.57" lengthAdjust="spacingAndGlyphs">i</tspan><tspan x="289.65" textLength="11.32" lengthAdjust="spacingAndGlyphs">d</tspan><tspan x="300.89" textLength="10.50" lengthAdjust="spacingAndGlyphs">e</tspan> <tspan x="316.68" textLength="4.89" lengthAdjust="spacingAndGlyphs">(</tspan><tspan x="322.63" textLength="11.07" lengthAdjust="spacingAndGlyphs">P</tspan><tspan x="333.54" textLength="12.50" lengthAdjust="spacingAndGlyphs">V</tspan><tspan x="345.61" textLength="11.46" lengthAdjust="spacingAndGlyphs">C</tspan><tspan x="357.43" textLength="5.10" lengthAdjust="spacingAndGlyphs">)</tspan></text>
<text y="561.71" font-size="18.40"><tspan x="19.44" textLength="9.81" lengthAdjust="spacingAndGlyphs">E</tspan><tspan x="29.41" textLength="9.54" lengthAdjust="spacingAndGlyphs">x</tspan><tspan x="38.73" textLength="6.78" lengthAdjust="spacingAndGlyphs">-</tspan><tspan x="44.53" textLength="13.63" lengthAdjust="spacingAndGlyphs">U</tspan><tspan x="58.13" textLength="9.84" lengthAdjust="spacingAndGlyphs">S</tspan> <tspan x="72.64" textLength="9.84" lengthAdjust="spacingAndGlyphs">S</tspan><tspan x="82.55" textLength="11.30" lengthAdjust="spacingAndGlyphs">p</tspan><tspan x="93.63" textLength="11.28" lengthAdjust="spacingAndGlyphs">o</tspan><tspan x="104.70" textLength="7.24" lengthAdjust="spacingAndGlyphs">t</tspan> <tspan x="116.77" textLength="11.06" lengthAdjust="spacingAndGlyphs">P</tspan><tspan x="127.67" textLength="12.49" lengthAdjust="spacingAndGlyphs">V</tspan><tspan x="139.72" textLength="11.45" lengthAdjust="spacingAndGlyphs">C</tspan> <tspan x="155.10" textLength="6.78" lengthAdjust="spacingAndGlyphs">-</tspan> <tspan x="165.97" textLength="13.45" lengthAdjust="spacingAndGlyphs">A</tspan><tspan x="179.03" textLength="9.68" lengthAdjust="spacingAndGlyphs">v</tspan><tspan x="187.93" textLength="11.18" lengthAdjust="spacingAndGlyphs">g</tspan><tspan x="197.56" textLength="6.17" lengthAdjust="spacingAndGlyphs">.</tspan> <tspan x="207.72" textLength="13.45" lengthAdjust="spacingAndGlyphs">A</tspan><tspan x="220.56" textLength="8.45" lengthAdjust="spacingAndGlyphs">s</tspan><tspan x="228.26" textLength="6.57" lengthAdjust="spacingAndGlyphs">i</tspan><tspan x="234.40" textLength="8.77" lengthAdjust="spacingAndGlyphs">a</tspan> <tspan x="248.77" textLength="15.57" lengthAdjust="spacingAndGlyphs">&amp;</tspan> <tspan x="268.23" textLength="13.85" lengthAdjust="spacingAndGlyphs">N</tspan><tspan x="282.01" textLength="18.77" lengthAdjust="spacingAndGlyphs">W</tspan> <tspan x="305.71" textLength="9.81" lengthAdjust="spacingAndGlyphs">E</tspan><tspan x="315.59" textLength="11.25" lengthAdjust="spacingAndGlyphs">u</tspan><tspan x="326.55" textLength="7.69" lengthAdjust="spacingAndGlyphs">r</tspan><tspan x="334.16" textLength="11.28" lengthAdjust="spacingAndGlyphs">o</tspan><tspan x="345.14" textLength="11.30" lengthAdjust="spacingAndGlyphs">p</tspan><tspan x="356.20" textLength="10.49" lengthAdjust="spacingAndGlyphs">e</tspan></text>
<text x="1030.21" y="591.10" font-size="18.30" font-style="italic" textLength="70.89" lengthAdjust="spacingAndGlyphs" style="fill:#9a7000">C-MACC</text>
</svg></body></html>
